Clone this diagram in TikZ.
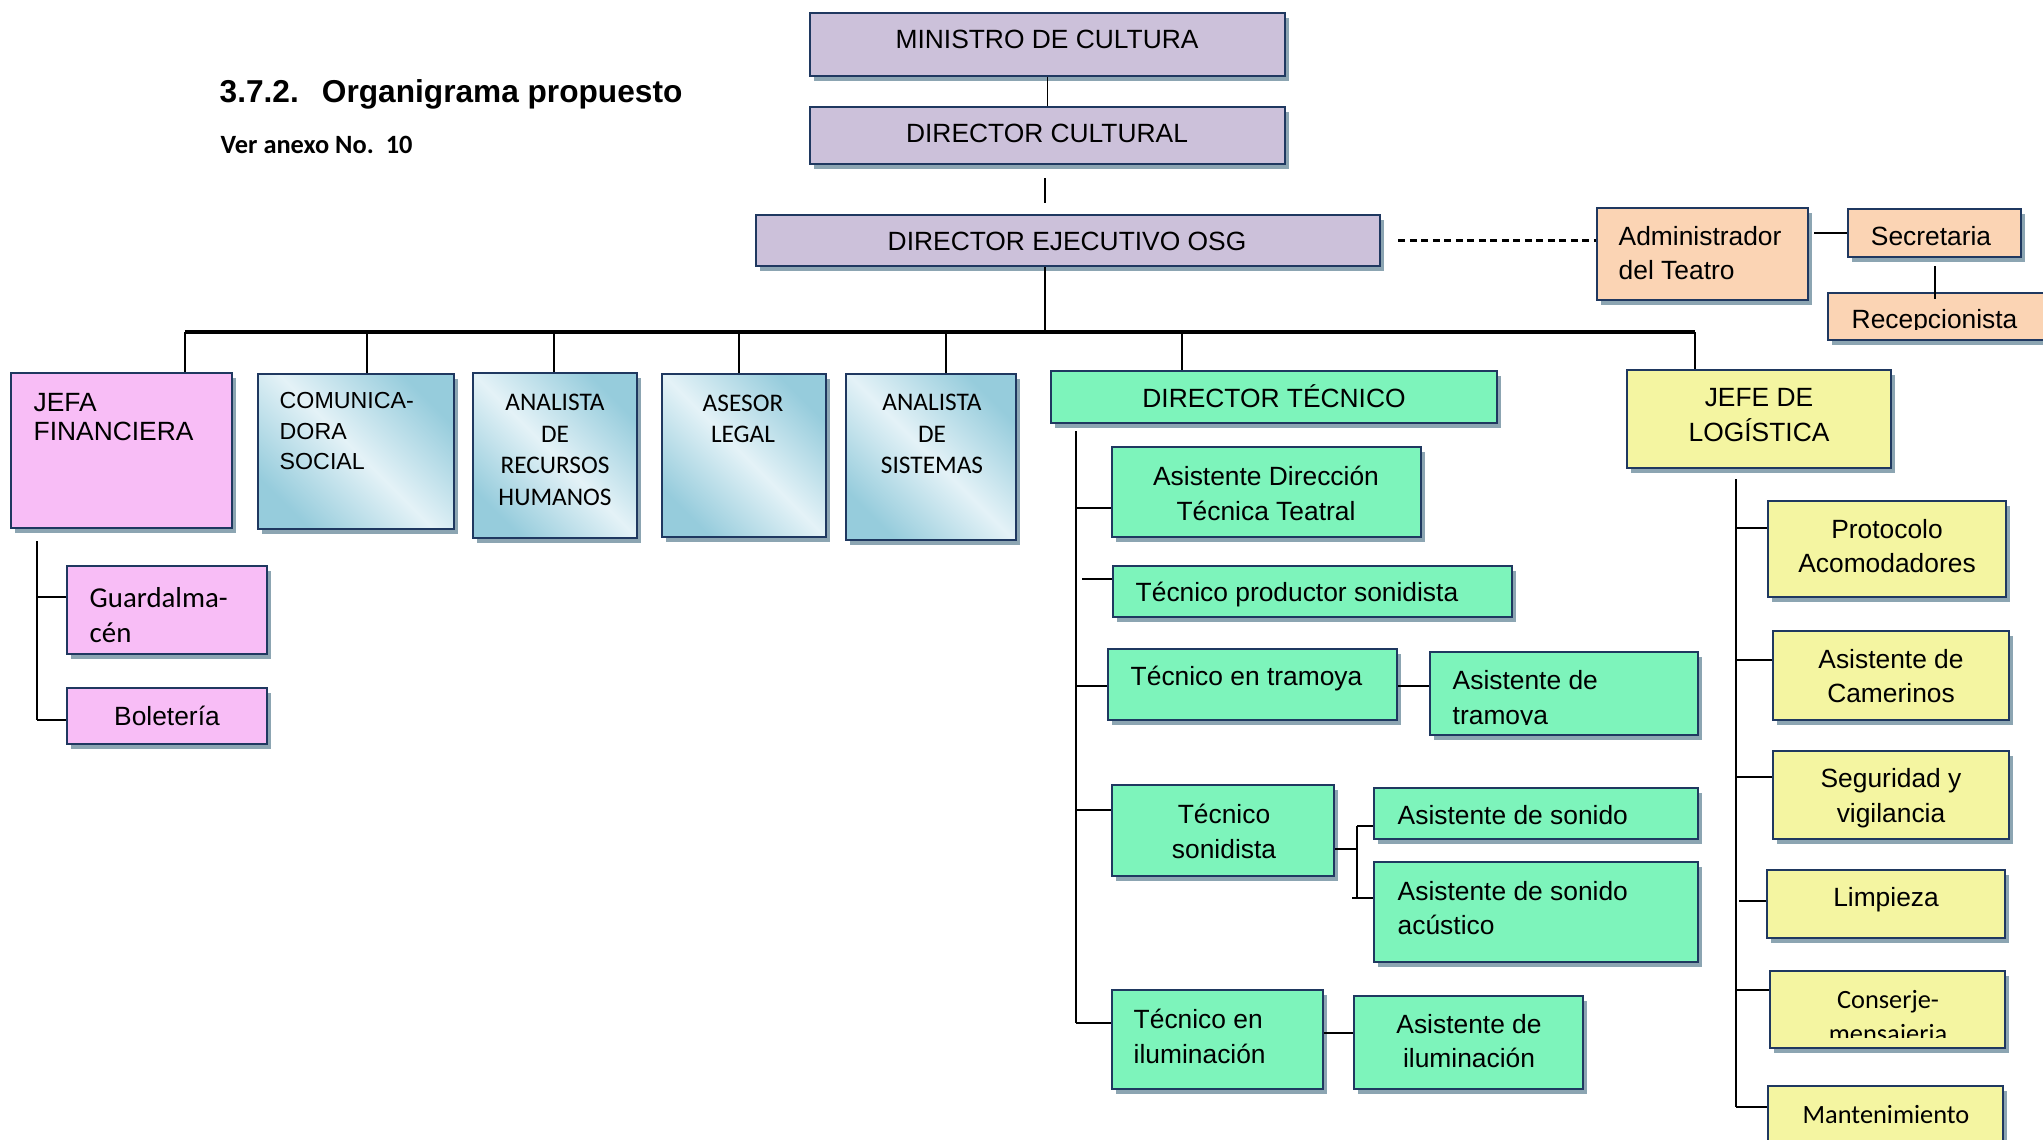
\documentclass[tikz,border=0pt]{standalone}
\usepackage{fontspec}
\setmainfont{Liberation Sans}
\newfontfamily\calibri{Carlito}
\usetikzlibrary{fit,shadows}

\definecolor{borde}{RGB}{31,56,96}
\definecolor{sombra}{RGB}{140,165,178}
\definecolor{cmorado}{RGB}{204,193,218}
\definecolor{cdurazno}{RGB}{251,212,180}
\definecolor{crosa}{RGB}{248,189,246}
\definecolor{cverde}{RGB}{125,244,187}
\definecolor{camarillo}{RGB}{244,245,161}
\definecolor{cazul}{RGB}{150,204,220}
\definecolor{cazulclaro}{RGB}{228,242,247}

\tikzset{
  caja/.style={draw=borde, line width=0.75pt, inner sep=0pt,
    drop shadow={shadow xshift=0.035cm, shadow yshift=-0.045cm, fill=sombra, opacity=1}},
  morado/.style={caja, fill=cmorado},
  durazno/.style={caja, fill=cdurazno},
  rosa/.style={caja, fill=crosa},
  verde/.style={caja, fill=cverde},
  amarillo/.style={caja, fill=camarillo},
  azul/.style={caja, top color=cazul, bottom color=cazul, middle color=cazulclaro, shading angle=-45},
  texto/.style={inner sep=0pt, align=center, font=\fontsize{7.5}{9.9}\selectfont},
  textoizq/.style={texto, align=left, anchor=west},
  textocal/.style={texto, font=\calibri\fontsize{7.2}{9}\selectfont},
  linea/.style={line width=0.55pt},
  rama/.style={line width=0.8pt},
  bus/.style={line width=0.9pt},
  punteada/.style={line width=0.6pt, dash pattern=on 0.07cm off 0.045cm},
}

\begin{document}
\begin{tikzpicture}[x=0.01cm, y=-0.01cm]
    \useasboundingbox (0,0) rectangle (2043,1139);
    \clip (0,0) rectangle (2043,1139);

    % Titulo
    \node[anchor=base west, inner sep=0pt, font=\bfseries\fontsize{9}{11}\selectfont] (titulo) at (219,102) {3.7.2.\hspace{0.23cm}Organigrama propuesto};
    \node[anchor=base west, inner sep=0pt, font=\calibri\bfseries\fontsize{7.5}{9}\selectfont] (anexo) at (220,153) {Ver anexo No.\ \ 10};

    % Direccion
    \node[morado, fit={(810,13) (1285,76)}] (ministro) {};
    \node[texto] (t-min) at (1047,39) {MINISTRO DE CULTURA};
    \node[morado, fit={(810,107) (1285,164)}] (dircult) {};
    \node[texto] (t-dc) at (1047,133) {DIRECTOR CULTURAL};
    \node[morado, fit={(756,215) (1380,266)}] (ejec) {};
    \node[texto] (t-ejec) at (1067,241) {DIRECTOR EJECUTIVO OSG};

    % Administracion del teatro
    \node[durazno, fit={(1597,208) (1808,300)}] (admin) {};
    \node[textoizq] (t-admin) at (1618,253) {Administrador\\del Teatro};
    \node[durazno, fit={(1848,209) (2021,257)}] (secre) {};
    \node[texto] (t-secre) at (1931,236) {Secretaria};
    \node[durazno, fit={(1828,293) (2060,340)}] (recep) {};
    \begin{scope}
        \clip ([yshift=0.12cm]recep.south west) rectangle (recep.north east);
        \node[texto, anchor=base west] (t-recep) at (1851,328) {Recepcionista};
    \end{scope}

    % Finanzas
    \node[rosa, fit={(11,373) (232,528)}] (jefa) {};
    \node[textoizq, font=\fontsize{7.5}{8.5}\selectfont] (t-jefa) at (33,417) {JEFA\\FINANCIERA};
    \node[rosa, fit={(67,566) (267,654)}] (guard) {};
    \node[textoizq, font=\calibri\fontsize{8.2}{9.9}\selectfont] (t-guard) at (89,615) {Guardalma-\\cén};
    \node[rosa, fit={(67,688) (267,744)}] (bolet) {};
    \node[texto] (t-bolet) at (167,716) {Boletería};

    % Asesores
    \node[azul, fit={(258,374) (454,529)}] (comun) {};
    \node[textoizq, font=\fontsize{6.6}{8.8}\selectfont] (t-comun) at (279,431) {COMUNICA-\\DORA\\SOCIAL};
    \node[azul, fit={(473,373) (637,538)}] (rrhh) {};
    \node[textocal] (t-rrhh) at (555,450) {ANALISTA\\DE\\RECURSOS\\HUMANOS};
    \node[azul, fit={(662,374) (826,537)}] (asesor) {};
    \node[textocal] (t-asesor) at (743,419) {ASESOR\\LEGAL};
    \node[azul, fit={(846,374) (1016,540)}] (sist) {};
    \node[textocal] (t-sist) at (932,434) {ANALISTA\\DE\\SISTEMAS};

    % Area tecnica
    \node[verde, fit={(1051,371) (1497,423)}] (dtec) {};
    \node[texto] (t-dtec) at (1274,396) {DIRECTOR TÉCNICO};
    \node[verde, fit={(1112,447) (1421,537)}] (asisdir) {};
    \node[texto] (t-asisdir) at (1266,493) {Asistente Dirección\\Técnica Teatral};
    \node[verde, fit={(1113,566) (1512,617)}] (tprod) {};
    \node[textoizq] (t-tprod) at (1135,595) {Técnico productor sonidista};
    \node[verde, fit={(1108,649) (1397,720)}] (ttram) {};
    \node[textoizq] (t-ttram) at (1130,679) {Técnico en tramoya};
    \node[verde, fit={(1430,652) (1698,735)}] (atram) {};
    \begin{scope}
        \clip ([yshift=0.115cm]atram.south west) rectangle (atram.north east);
        \node[textoizq] (t-atram) at (1452,700) {Asistente de\\tramoya};
    \end{scope}
    \node[verde, fit={(1112,785) (1334,876)}] (tson) {};
    \node[texto] (t-tson) at (1224,831) {Técnico\\sonidista};
    \node[verde, fit={(1374,788) (1698,839)}] (ason) {};
    \node[textoizq] (t-ason) at (1397,815) {Asistente de sonido};
    \node[verde, fit={(1374,862) (1698,962)}] (asonac) {};
    \node[textoizq] (t-asonac) at (1397,908) {Asistente de sonido\\acústico};
    \node[verde, fit={(1112,990) (1323,1089)}] (tilum) {};
    \node[textoizq] (t-tilum) at (1133,1036) {Técnico en\\iluminación};
    \node[verde, fit={(1354,996) (1583,1089)}] (ailum) {};
    \node[texto] (t-ailum) at (1469,1041) {Asistente de\\iluminación};

    % Logistica
    \node[amarillo, fit={(1627,370) (1891,468)}] (logis) {};
    \node[texto] (t-logis) at (1759,415) {JEFE DE\\LOGÍSTICA};
    \node[amarillo, fit={(1768,501) (2006,597)}] (proto) {};
    \node[texto] (t-proto) at (1887,546) {Protocolo\\Acomodadores};
    \node[amarillo, fit={(1773,631) (2009,720)}] (camer) {};
    \node[texto] (t-camer) at (1891,676) {Asistente de\\Camerinos};
    \node[amarillo, fit={(1773,751) (2009,839)}] (segur) {};
    \node[texto] (t-segur) at (1891,798) {Seguridad y\\vigilancia};
    \node[amarillo, fit={(1767,870) (2005,938)}] (limp) {};
    \node[texto] (t-limp) at (1886,900) {Limpieza};
    \node[amarillo, fit={(1770,971) (2005,1048)}] (conser) {};
    \begin{scope}
        \clip ([yshift=0.115cm]conser.south west) rectangle (conser.north east);
        \node[texto, font=\calibri\fontsize{7.5}{9.6}\selectfont] (t-conser) at (1888,1019) {Conserje-\\mensajeria};
    \end{scope}
    \node[amarillo, fit={(1768,1086) (2003,1160)}] (mant) {};
    \node[texto, font=\calibri\fontsize{7.5}{9}\selectfont] (t-mant) at (1886,1115) {Mantenimiento};

    % Lineas de mando superiores
    \coordinate (b0) at (1045,332);
    \draw[linea] (ministro) -- (dircult);
    \draw[linea, shorten <=0.13cm, shorten >=0.11cm] (dircult.south -| b0) -- (ejec.north -| b0);
    \draw[linea] (ejec.south -| b0) -- (b0);
    \draw[punteada, shorten <=0.17cm] (ejec.east) -- (ejec.east -| admin.west);
    \draw[rama, shorten <=0.05cm] (admin.east |- secre.west) -- (secre.west);
    \draw[linea, shorten <=0.08cm, shorten >=-0.07cm] (secre.south) -- (secre.south |- recep.north);

    % Barra horizontal y bajadas
    \coordinate (b1) at (185,332);
    \coordinate (b2) at (367,332);
    \coordinate (b3) at (554,332);
    \coordinate (b4) at (739,332);
    \coordinate (b5) at (946,332);
    \coordinate (b6) at (1182,332);
    \coordinate (b7) at (1695,332);
    \draw[bus] (b1) -- (b7);
    \draw[linea] (b1) -- (jefa.north -| b1);
    \draw[linea] (b2) -- (comun.north -| b2);
    \draw[linea] (b3) -- (rrhh.north -| b3);
    \draw[linea] (b4) -- (asesor.north -| b4);
    \draw[linea] (b5) -- (sist.north -| b5);
    \draw[linea] (b6) -- (dtec.north -| b6);
    \draw[linea] (b7) -- (logis.north -| b7);

    % Ramas de finanzas
    \coordinate (f1) at (37,597);
    \coordinate (f2) at (37,720);
    \draw[linea, shorten <=0.12cm] (jefa.south -| f1) -- (f2);
    \draw[rama] (f1) -- (f1 -| guard.west);
    \draw[rama] (f2) -- (f2 -| bolet.west);

    % Ramas del area tecnica
    \coordinate (d1) at (1076,508);
    \coordinate (d2) at (1082,579);
    \coordinate (d3) at (1076,686);
    \coordinate (d4) at (1076,810);
    \coordinate (d5) at (1076,1023);
    \draw[linea, shorten <=0.07cm] (dtec.south -| d1) -- (d5);
    \draw[rama] (d1) -- (d1 -| asisdir.west);
    \draw[rama] (d2) -- (d2 -| tprod.west);
    \draw[rama] (d3) -- (d3 -| ttram.west);
    \draw[rama] (d4) -- (d4 -| tson.west);
    \draw[rama] (d5) -- (d5 -| tilum.west);
    \draw[rama] (ttram.east |- d3) -- (d3 -| atram.west);
    \coordinate (s1) at (1357,849);
    \coordinate (s2) at (1357,826);
    \coordinate (s3) at (1357,898);
    \draw[rama] (tson.east |- s1) -- (s1);
    \draw[rama] (s2) -- (s3);
    \draw[rama] (s2) -- (s2 -| ason.west);
    \draw[rama, shorten <=-0.05cm] (s3) -- (s3 -| asonac.west);
    \coordinate (i1) at (1340,1033);
    \draw[rama] (tilum.east |- i1) -- (i1 -| ailum.west);

    % Ramas de logistica
    \coordinate (l1) at (1736,528);
    \coordinate (l2) at (1736,660);
    \coordinate (l3) at (1736,777);
    \coordinate (l4) at (1739,901);
    \coordinate (l5) at (1736,990);
    \coordinate (l6) at (1736,1107);
    \draw[linea, shorten <=0.1cm] (logis.south -| l1) -- (l6);
    \draw[rama] (l1) -- (l1 -| proto.west);
    \draw[rama] (l2) -- (l2 -| camer.west);
    \draw[rama] (l3) -- (l3 -| segur.west);
    \draw[rama] (l4) -- (l4 -| limp.west);
    \draw[rama] (l5) -- (l5 -| conser.west);
    \draw[rama] (l6) -- (l6 -| mant.west);
\end{tikzpicture}
\end{document}
